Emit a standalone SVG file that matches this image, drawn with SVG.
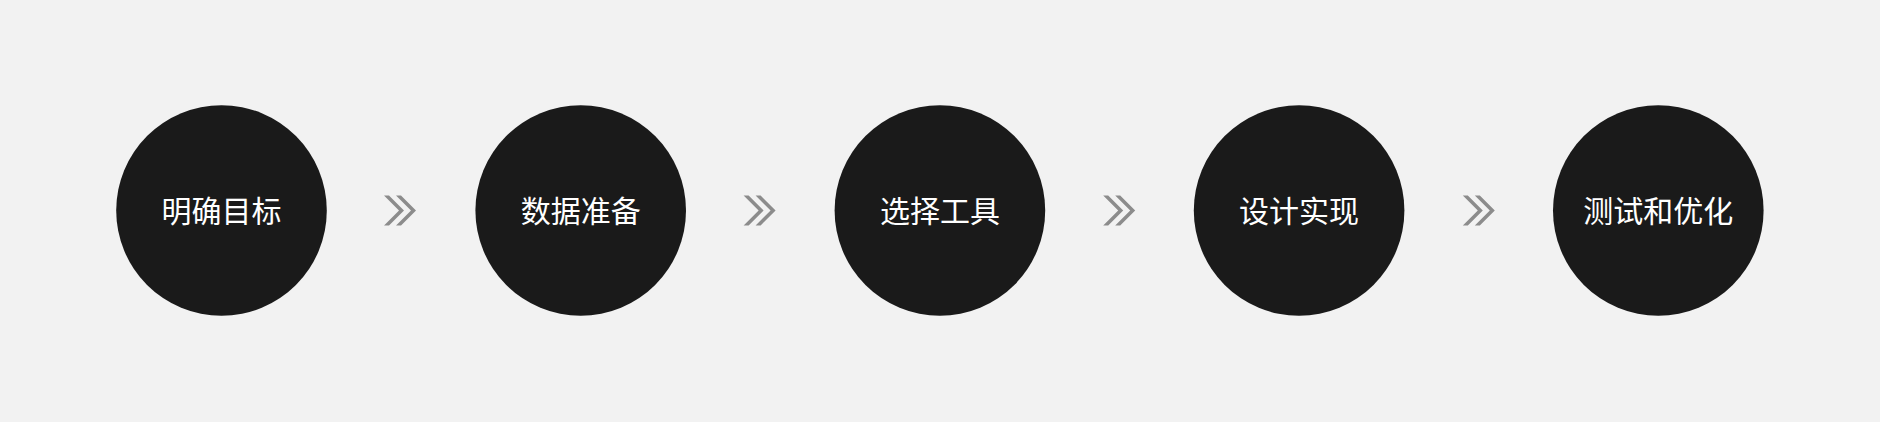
<svg xmlns="http://www.w3.org/2000/svg" xmlns:xlink="http://www.w3.org/1999/xlink" width="1880" height="422" viewBox="0 0 1880 422">
  <style>
    .node circle { fill: #1a1a1a; }
    .node text { fill: #ffffff; font-family: "Noto Sans CJK SC", "Noto Sans", sans-serif; font-size: 30px; text-anchor: middle; }
    .chev { fill: #8c8c8c; }
  </style>
  <defs>
    <g id="dchev">
      <polygon class="chev" points="-16,195.5 -11,195.5 4,210.5 -11,225.5 -16,225.5 -1,210.5"/>
      <polygon class="chev" points="-4,195.5 1,195.5 16,210.5 1,225.5 -4,225.5 11,210.5"/>
    </g>
  </defs>
  <rect width="1880" height="422" fill="#f2f2f2"/>
  <g id="connectors">
    <use xlink:href="#dchev" href="#dchev" transform="translate(400,0)"/>
    <use xlink:href="#dchev" href="#dchev" transform="translate(759.6,0)"/>
    <use xlink:href="#dchev" href="#dchev" transform="translate(1119.2,0)"/>
    <use xlink:href="#dchev" href="#dchev" transform="translate(1478.8,0)"/>
  </g>
  <g id="node1" class="node">
    <circle cx="221.5" cy="210.5" r="105.3"/>
    <text x="221.5" y="222">明确目标</text>
  </g>
  <g id="node2" class="node">
    <circle cx="580.7" cy="210.5" r="105.3"/>
    <text x="580.7" y="222">数据准备</text>
  </g>
  <g id="node3" class="node">
    <circle cx="939.9" cy="210.5" r="105.3"/>
    <text x="939.9" y="222">选择工具</text>
  </g>
  <g id="node4" class="node">
    <circle cx="1299.1" cy="210.5" r="105.3"/>
    <text x="1299.1" y="222">设计实现</text>
  </g>
  <g id="node5" class="node">
    <circle cx="1658.3" cy="210.5" r="105.3"/>
    <text x="1658.3" y="222">测试和优化</text>
  </g>
</svg>
